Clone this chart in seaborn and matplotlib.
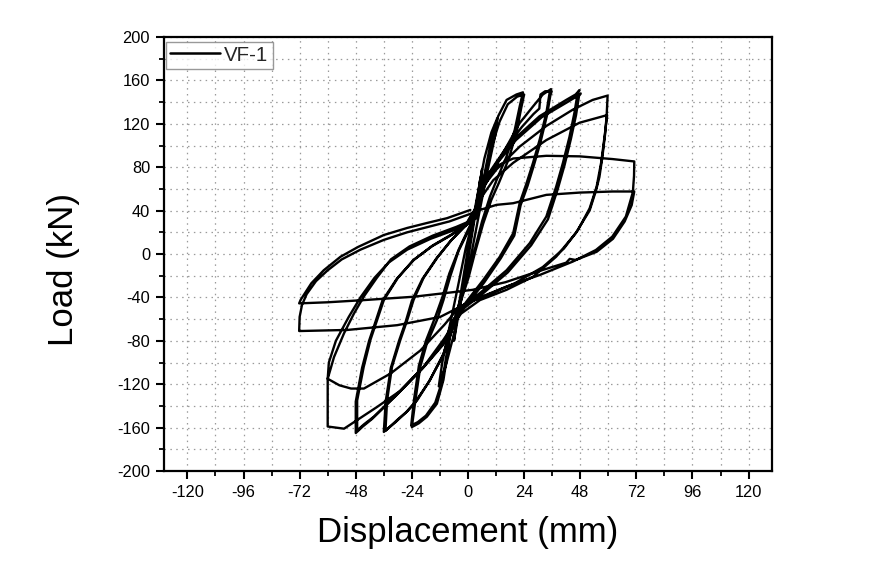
import numpy as np
import pandas as pd
import matplotlib
matplotlib.use("Agg")
import matplotlib.pyplot as plt
import seaborn as sns
from matplotlib.ticker import MultipleLocator

# ---- data: displacement (mm) / load (kN), one list pair per loading cycle ----
disp_c0 = [0, 2, 4, 6, 4.5, 1.5, -1.5, -4, -6, -4.5, -1.5, 1.5]
load_c0 = [0, 25, 52, 78, 55, 15, -25, -55, -80, -55, -15, 25]

disp_c1 = [3.5, 7, 10, 12.5, 11.5, 8.5, 5, 1, -3, -6.5, -9.5, -12.5, -11, -8, -4.5, -1, 2]
load_c1 = [48, 88, 112, 125, 108, 78, 40, -5, -42, -78, -103, -122, -100, -68, -32, 5, 30]

disp_c2 = [4.5, 6.5, 9.4, 12.9, 16.5, 20.7, 23.5, 22.1, 20, 16.5, 12.2, 9.4, 6, 3, 0, -3, -5.5, -7.7,
           -9, -10.5, -13.3, -17.6, -21, -24, -22.5, -20.4, -17.6, -13.3, -10.5, -7.5, -4, 1]
load_c2 = [50, 68, 99, 127, 142, 147, 149, 136, 114.5, 90, 68, 53, 30, 5, -20, -40, -58, -76,
           -95, -116, -138, -150, -156, -159.5, -135, -104, -82.5, -61, -42.5, -20, 3, 25]

disp_c3 = [4, 7, 10, 13.5, 17, 21, 24, 22.8, 20.8, 17.5, 13.3, 10, 6.5, 3.2, 0.2, -2.8, -5.5, -8,
           -9.5, -11, -14, -18, -21.5, -24.3, -23, -21, -18, -14, -11, -8, -4, 1]
load_c3 = [45, 70, 98, 122, 138, 145, 147, 135, 113, 88, 66, 50, 28, 3, -22, -42, -60, -78,
           -97, -117, -137, -149, -155, -158, -133, -103, -80, -58, -40, -18, 4, 27]

disp_c4 = [4, 6, 9.4, 16.5, 22.1, 27.8, 32, 35.5, 34.9, 33.5, 30.6, 27.8, 25, 22.1, 19.3, 13.6, 6.5,
           0, -3.5, -6.3, -8, -10.5, -16.2, -21.8, -26, -30.3, -35.3, -34.6, -32.5, -28.9, -26,
           -23.3, -19, -13, -7, -1, 4]
load_c4 = [45, 58, 72, 99, 120.7, 136, 147, 152, 148.5, 130, 105, 84, 65, 47, 19, -2.5, -24,
           -42, -52, -61, -75, -92, -116, -135, -145, -153, -163, -135, -104, -79, -61,
           -42.5, -22, -3, 13, 27, 45]

disp_c5 = [6, 10, 17, 23, 28, 30.5, 31, 33, 35.8, 35.2, 33.8, 31, 28.2, 25.5, 22.5, 19.8, 14, 7,
           0.5, -3, -6, -8, -11, -16.8, -22.4, -26.5, -31, -36, -35.2, -33, -29.5, -26.6, -24,
           -19.5, -13.5, -7.5, -1, 3.5]
load_c5 = [60, 78, 100, 117, 129, 134, 147, 150, 150, 146, 128, 103, 82, 63, 45, 17, -4, -26,
           -44, -53, -63, -78, -95, -118, -136, -146, -155, -164, -136, -105, -80, -62, -43,
           -23, -4, 12, 26, 43]

disp_c6 = [5, 12.2, 19.3, 30.6, 42, 46, 47.7, 46.9, 45.5, 43.4, 40.6, 37.7, 33.5, 26.4, 16.5, 5.1,
           -2, -6.3, -10.5, -19, -30.3, -40.3, -44.5, -47.4, -47.4, -44.6, -41.7, -38.9, -36, -30,
           -23, -15, -7, 0, 3]
load_c6 = [55, 84, 105, 127, 142, 147, 151, 148.5, 130, 108, 84, 62, 34.5, 10, -15, -36,
           -48, -61, -82.5, -104, -129, -150, -157, -162.6, -135, -104, -79, -61, -42.5, -22,
           -5, 8, 18, 28, 38]

disp_c7 = [6, 13, 20.5, 31.5, 42.5, 46.3, 48.2, 47.5, 46.2, 44, 41.3, 38.4, 34.2, 27, 17, 5.5,
           -1.8, -6, -10.8, -19.6, -31, -41, -45, -48, -48, -45.3, -42.3, -39.5, -36.6, -30.5,
           -23.5, -15.5, -7.5, -0.5, 3]
load_c7 = [60, 85, 105, 126, 140, 145, 148, 146, 128, 106, 82, 60, 32, 8, -17, -38,
           -50, -63, -84, -106, -131, -152, -159, -165, -136, -105, -80, -62, -43, -23,
           -6, 7, 17, 27, 40]

disp_c8 = [5, 12.2, 22.1, 33.5, 44.8, 53.3, 59.7, 59.3, 58.6, 57.5, 56.2, 54.8, 52, 46, 37.7, 27.8,
           16.5, 5.1, -3, -10.5, -19, -28.9, -38.9, -47.4, -53, -60, -60, -60, -57.3, -53, -48.8,
           -44.5, -39, -33, -25, -15, -5, 3.7]
load_c8 = [58, 78, 99, 118, 133, 142, 146, 128, 110, 90, 71, 59, 40, 19, -2.5, -21,
           -33, -42.5, -55, -79, -104, -126, -141, -153, -161, -159, -140, -115, -95, -73, -55,
           -39, -22, -5, 7, 17, 25, 33]

disp_c9 = [5, 10.8, 19.3, 33.5, 47.7, 59.5, 58.5, 57, 55, 52, 47, 41, 32, 20, 8, -2, -5, -10,
           -20.4, -33, -44.5, -50, -55, -60, -59.5, -56.5, -51, -46, -40, -34, -26, -16, -6, 2]
load_c9 = [50, 68, 84, 105, 121, 128, 110, 85, 62, 42, 22, 5, -12, -27, -38, -47, -52, -65,
           -89, -110, -124, -124, -121, -115, -100, -80, -58, -40, -22, -8, 4, 14, 22, 30]

disp_c10 = [4.5, 5.1, 12.2, 19.3, 33.5, 47.7, 61.8, 71.1, 71, 70.5, 67.5, 61.7, 54.7, 44.8, 30.6,
            16.5, 2.3, -3.4, -11.9, -30.3, -51.6, -72.2, -72, -71, -69, -65, -60, -54, -46, -36,
            -26, -17, -8, 1]
load_c10 = [52, 68, 81, 88, 90.5, 90, 87.5, 85.3, 72, 57, 34.5, 16, 3.7, -7, -19.4,
            -30, -42.5, -48.7, -58, -65.6, -70, -71, -58, -47, -37, -25, -15, -5, 4, 13,
            20, 25, 30, 37]

disp_c11 = [3, 5.1, 12.2, 19.3, 33.5, 47.7, 61.8, 71.1, 70, 67, 62, 55, 46, 43.5, 42, 30, 16, 2,
            -4.8, -23.3, -44.6, -60, -72.2, -71.5, -67, -61.7, -54.5, -47, -36, -26, -17.5, -9, 1]
load_c11 = [39, 40.6, 45.3, 46.8, 54.5, 56.6, 57.6, 57.6, 45, 30, 14, 2, -5.5, -4.5, -8, -16,
            -26, -33, -34.8, -39.4, -42.5, -44.5, -45.5, -42, -27, -15, -2.5, 6.5, 17.5, 24,
            28.6, 33, 40.6]

series_name = "VF-1"
x_ticks = [-120, -96, -72, -48, -24, 0, 24, 48, 72, 96, 120]
y_ticks = [-200, -160, -120, -80, -40, 0, 40, 80, 120, 160, 200]

disp_all = (disp_c0 + disp_c1 + disp_c2 + disp_c3 + disp_c4 + disp_c5 + disp_c6 + disp_c7 +
            disp_c8 + disp_c9 + disp_c10 + disp_c11)
load_all = (load_c0 + load_c1 + load_c2 + load_c3 + load_c4 + load_c5 + load_c6 + load_c7 +
            load_c8 + load_c9 + load_c10 + load_c11)

df = pd.DataFrame({"Displacement": disp_all, "Load": load_all,
                   "Specimen": series_name})

sns.set_theme(style="white")
plt.rcParams["font.family"] = ["Liberation Sans", "DejaVu Sans"]

W, H = 877, 563
AX_L, AX_R, AX_T, AX_B = 164, 772, 37, 471
fig = plt.figure(figsize=(W / 100, H / 100), dpi=100)
ax = fig.add_axes([AX_L / W, 1 - AX_B / H, (AX_R - AX_L) / W, (AX_B - AX_T) / H])

sns.lineplot(data=df, x="Displacement", y="Load", sort=False, estimator=None,
             color="black", linewidth=1.7, ax=ax, label=series_name)

ax.set_xlim(-130, 130)
ax.set_ylim(-200, 200)
ax.set_xticks(x_ticks)
ax.set_yticks(y_ticks)
ax.set_xticklabels([str(t) for t in x_ticks])
ax.set_yticklabels([str(t) for t in y_ticks])
ax.xaxis.set_minor_locator(MultipleLocator(12))
ax.yaxis.set_minor_locator(MultipleLocator(20))

ax.grid(which="both", linestyle=(0, (1.2, 3.5)), color="#9a9a9a", linewidth=0.9)
ax.set_axisbelow(True)

for s in ax.spines.values():
    s.set_color("black")
    s.set_linewidth(1.6)
    s.set_visible(True)

ax.tick_params(which="major", direction="out", length=6, width=1.5, color="black",
               labelsize=11.8, labelcolor="black", bottom=True, left=True, top=False, right=False, pad=4)
ax.tick_params(which="minor", direction="out", length=3.5, width=1.3, color="black",
               bottom=True, left=True, top=False, right=False)

axw, axh = AX_R - AX_L, AX_B - AX_T
ax.set_xlabel("Displacement (mm)", fontsize=25, color="black")
ax.xaxis.set_label_coords(0.5, (AX_B - 516) / axh)
ax.set_ylabel("Load (kN)", fontsize=25, color="black")
ax.yaxis.set_label_coords((80 - AX_L) / axw, (AX_B - 270) / axh)

leg = ax.legend(loc="upper left", fontsize=14.8, frameon=True, fancybox=False,
                edgecolor="#808080", bbox_to_anchor=(2 / axw, 1 - 4.5 / axh),
                borderaxespad=0, handlelength=2.43, borderpad=0.2,
                handletextpad=0.2)
leg.get_frame().set_linewidth(1.0)
for line in leg.get_lines():
    line.set_linewidth(1.8)

fig.savefig("out.png", dpi=100, facecolor="white")
